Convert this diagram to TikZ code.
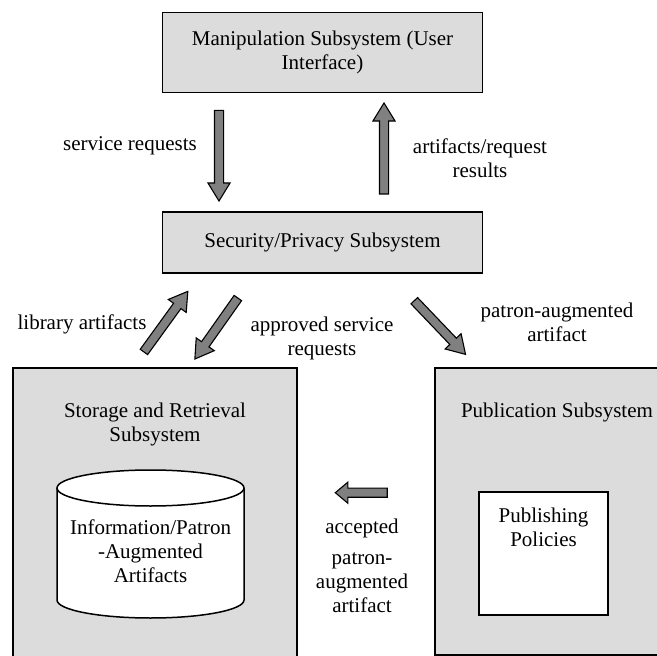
\documentclass[tikz,border=0pt]{standalone}
\usepackage{fontspec}
\setmainfont{Liberation Serif}
\usetikzlibrary{shapes.arrows,calc}

\definecolor{boxgray}{RGB}{220,220,220}
\definecolor{arrowgray}{RGB}{128,128,128}

\tikzset{
  subsys/.style={draw=black, line width=1.5pt, fill=boxgray, inner sep=0pt, align=center},
  fatarrow/.style={single arrow, draw=black, line width=1.1pt, fill=arrowgray,
    inner xsep=0pt, inner ysep=4pt, single arrow head extend=6.5pt,
    single arrow tip angle=63, single arrow head indent=0pt},
  lbl/.style={align=center, inner sep=0pt}
}

% block arrow from #2 to #3, named #1
\newcommand{\fatarrow}[4][]{%
  \path let \p1=($(#4)-(#3)$), \n1={atan2(\y1,\x1)}, \n2={veclen(\x1,\y1)} in
    node[fatarrow, rotate=\n1, minimum height=\n2, #1] (#2) at ($(#3)!0.5!(#4)$) {};}

\begin{document}
\begin{tikzpicture}[x=1pt, y=-1pt, font=\fontsize{21}{24}\selectfont]
\clip (0,0) rectangle (657,656);

% subsystems
\node[subsys, minimum width=320pt, minimum height=80pt] (manip) at (322.5,52.5)
  {Manipulation Subsystem (User\\Interface)};
\node[subsys, minimum width=320pt, minimum height=61pt] (secur) at (322.5,242.4)
  {Security/Privacy Subsystem};
\node[subsys, minimum width=284pt, minimum height=292pt] (storage) at (154.8,514) {};
\node[subsys, minimum width=245pt, minimum height=287pt] (publ) at (557.5,511.5) {};

\node[lbl] (storagetxt) at (155,424.5) {Storage and Retrieval\\Subsystem};
\node[lbl] (publtxt) at (557,412) {Publication Subsystem};

% repository
\draw[line width=1.5pt, fill=white] (57,488) -- (57,600)
  arc[start angle=180, end angle=360, x radius=93.5pt, y radius=18pt] -- (244,488);
\draw[line width=1.5pt, fill=white] (150.5,488) ellipse[x radius=93.5pt, y radius=18pt];
\node[lbl] (repotxt) at (150.5,551.5) {Information/Patron\\-Augmented\\Artifacts};

% policies
\node[draw=black, line width=1.8pt, fill=white, minimum width=129pt, minimum height=123pt]
  (policy) at (543.5,553.5) {};
\node[lbl] (policytxt) at (543.5,527.5) {Publishing\\Policies};

% arrow ends
\coordinate (sreq1) at (219,106.7);   \coordinate (sreq2) at (219,197.3);
\coordinate (ares1) at (384,197.7);   \coordinate (ares2) at (384,106.7);
\coordinate (lib1) at (141.7,355);    \coordinate (lib2) at (185.7,294.3);
\coordinate (appr1) at (240,295);     \coordinate (appr2) at (197,356);
\coordinate (pat1) at (411.7,298);    \coordinate (pat2) at (463,351.7);
\coordinate (acc1) at (390,492.7);    \coordinate (acc2) at (338,492.7);

\fatarrow{sreq}{sreq1}{sreq2}
\fatarrow{ares}{ares1}{ares2}
\fatarrow{lib}{lib1}{lib2}
\fatarrow{appr}{appr1}{appr2}
\fatarrow{pat}{pat1}{pat2}
\fatarrow[single arrow tip angle=80, single arrow head extend=6pt]{acc}{acc1}{acc2}

% labels
\node[lbl] (sreqtxt) at (130,145.7) {service requests};
\node[lbl] (arestxt) at (480,158) {artifacts/request\\results};
\node[lbl] (libtxt) at (82,324) {library artifacts};
\node[lbl] (apprtxt) at (322,338) {approved service\\requests};
\node[lbl] (pattxt) at (557,322.5) {patron-augmented\\artifact};
\node[lbl] (acctxt) at (362,566) {accepted\\[7pt]patron-\\augmented\\artifact};
\end{tikzpicture}
\end{document}
